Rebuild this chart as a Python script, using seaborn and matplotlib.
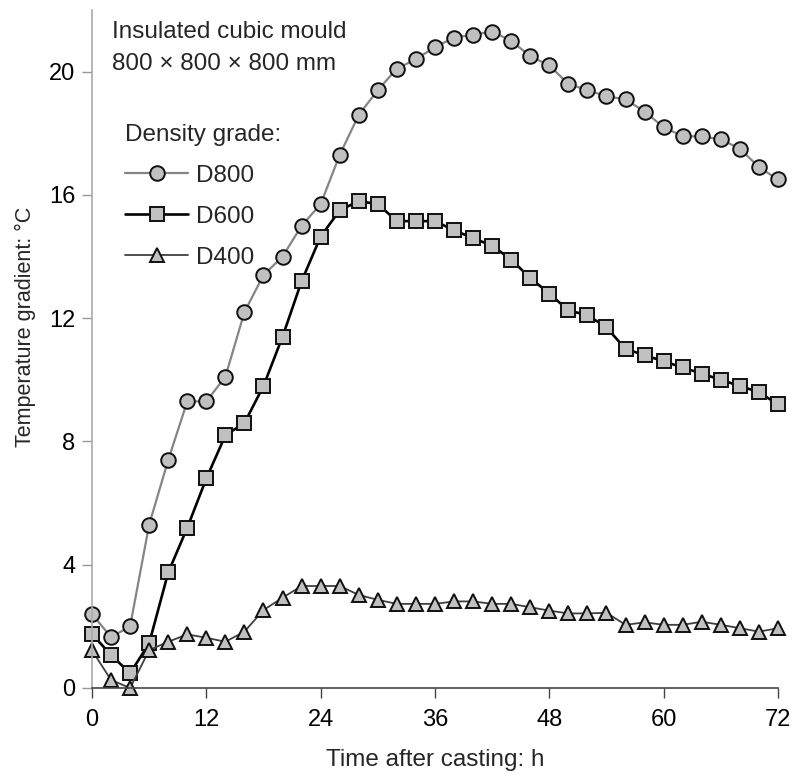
import numpy as np
import pandas as pd
import matplotlib
matplotlib.use("Agg")
import matplotlib.pyplot as plt
import seaborn as sns

hours = list(range(0, 74, 2))
d800 = [2.4, 1.65, 2.0, 5.3, 7.4, 9.3, 9.3, 10.1, 12.2, 13.4, 14.0, 15.0, 15.7, 17.3, 18.6,
        19.4, 20.1, 20.4, 20.8, 21.1, 21.2, 21.3, 21.0, 20.5, 20.2, 19.6, 19.4, 19.2, 19.1,
        18.7, 18.2, 17.9, 17.9, 17.8, 17.5, 16.9, 16.5]
d600 = [1.75, 1.07, 0.48, 1.45, 3.75, 5.2, 6.8, 8.2, 8.6, 9.8, 11.4, 13.2, 14.65, 15.5, 15.8,
        15.7, 15.15, 15.15, 15.15, 14.85, 14.6, 14.35, 13.9, 13.3, 12.8, 12.25, 12.1, 11.7,
        11.0, 10.8, 10.6, 10.4, 10.2, 10.0, 9.8, 9.6, 9.2]
d400 = [1.22, 0.26, 0.0, 1.23, 1.5, 1.74, 1.63, 1.5, 1.83, 2.53, 2.93, 3.31, 3.31, 3.31, 3.02,
        2.86, 2.73, 2.73, 2.73, 2.81, 2.81, 2.73, 2.73, 2.62, 2.51, 2.42, 2.42, 2.44, 2.05,
        2.13, 2.05, 2.05, 2.15, 2.05, 1.94, 1.83, 1.94]
series_names = ["D800", "D600", "D400"]
x_ticks = [0, 12, 24, 36, 48, 60, 72]
y_ticks = [0, 4, 8, 12, 16, 20]

sns.set_style("white")
plt.rcParams['font.family'] = ['Liberation Sans', 'DejaVu Sans']

fig = plt.figure(figsize=(7.94, 7.81), dpi=100)
ax = fig.add_axes([92/794, 1-688/781, 686/794, 678/781])

styles = {
    "D800": dict(color="#858585", marker="o", lw=1.6, ms=10.5),
    "D600": dict(color="#000000", marker="s", lw=1.9, ms=10),
    "D400": dict(color="#404040", marker="^", lw=1.3, ms=10.5),
}
data = {"D800": d800, "D600": d600, "D400": d400}
handles = []
for name in series_names:
    st = styles[name]
    df = pd.DataFrame({"t": hours, "v": data[name]})
    sns.lineplot(data=df, x="t", y="v", ax=ax, color=st["color"], lw=st["lw"],
                 marker=st["marker"], markersize=st["ms"], markerfacecolor="#c0c0c0",
                 markeredgecolor="#101010", markeredgewidth=1.4, clip_on=False,
                 label=name)
    handles.append(ax.lines[-1])

FS = 17.5
ax.set_xlim(0, 72)
ax.set_ylim(0, 22)
ax.set_xticks(x_ticks)
ax.set_yticks(y_ticks)
ax.tick_params(axis="both", labelsize=17, length=7, width=1, direction="out",
               bottom=True, left=True)
ax.tick_params(axis="y", colors="#999999", labelcolor="black", pad=5)
ax.tick_params(axis="x", colors="#444444", labelcolor="black", pad=8)
for s in ["top", "right"]:
    ax.spines[s].set_visible(False)
ax.spines["left"].set_color("#aaaaaa")
ax.spines["left"].set_linewidth(1.2)
ax.spines["bottom"].set_color("#444444")
ax.spines["bottom"].set_linewidth(1.2)

ax.set_xlabel("Time after casting: h", fontsize=FS, labelpad=13)
ax.set_ylabel("Temperature gradient: °C", fontsize=15.5)
ax.yaxis.set_label_coords(-0.082, 0.532)

ax.text(0.029, 0.984, "Insulated cubic mould\n800 × 800 × 800 mm", transform=ax.transAxes,
        fontsize=FS, va="top", ha="left", linespacing=1.6)

leg = ax.legend(handles=handles, labels=series_names, title="Density grade:",
                loc="upper left", bbox_to_anchor=(0.048, 0.832), frameon=False,
                fontsize=FS, title_fontsize=FS, handlelength=2.6,
                handletextpad=0.33, labelspacing=0.78, borderpad=0, borderaxespad=0)
leg._legend_box.align = "left"

fig.savefig("out.png", dpi=100)
